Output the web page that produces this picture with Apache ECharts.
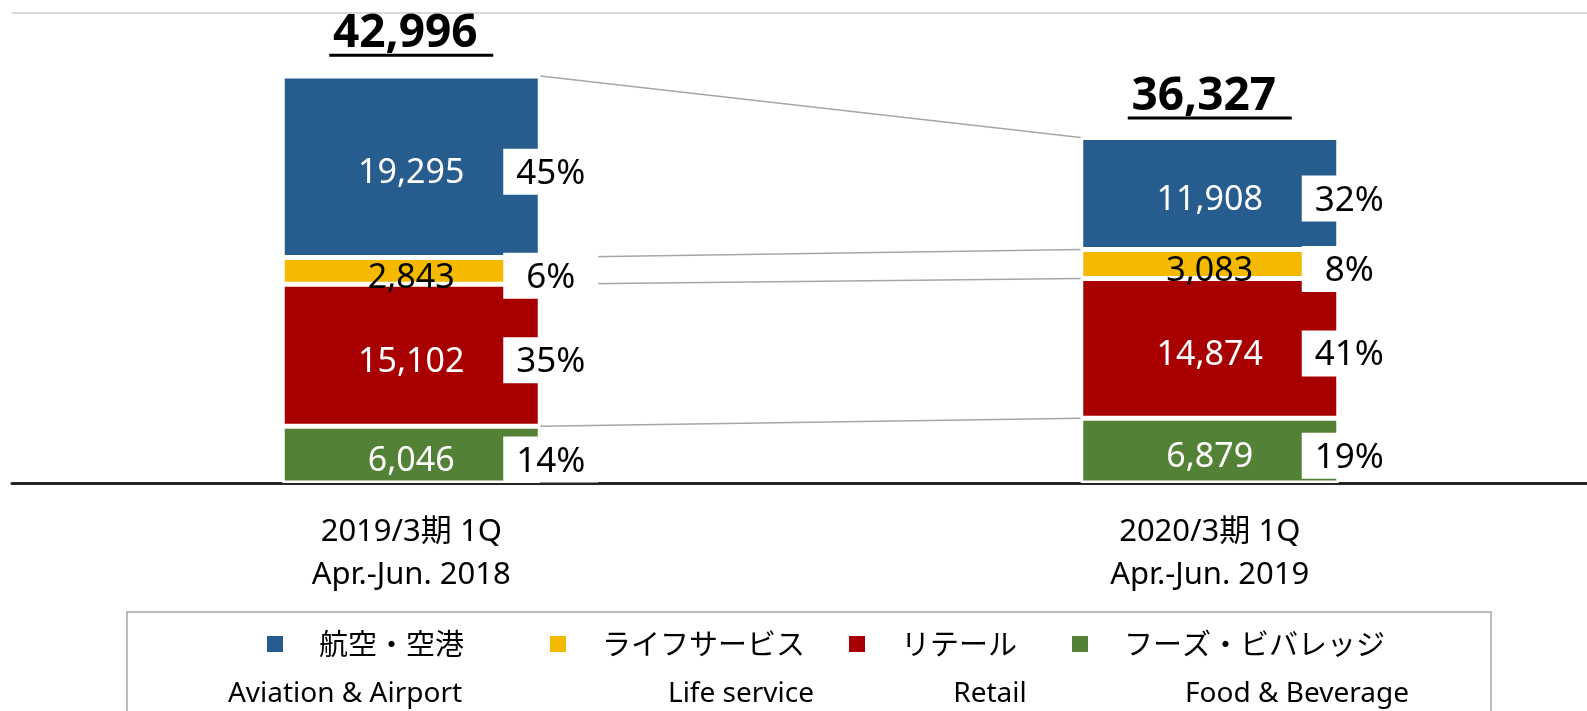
<!DOCTYPE html>
<html>
<head>
<meta charset="utf-8">
<script src="https://cdn.jsdelivr.net/npm/echarts@6/dist/echarts.min.js"></script>
<style>
html, body { margin: 0; padding: 0; background: #fff; }
#container { width: 1587px; height: 711px; }
</style>
</head>
<body>
<div id="container"></div>
<script>
// data
var periods = ['2019/3期 1Q\nApr.-Jun. 2018', '2020/3期 1Q\nApr.-Jun. 2019'];
var segments = ['航空・空港', 'ライフサービス', 'リテール', 'フーズ・ビバレッジ'];
var segmentsEn = ['Aviation & Airport', 'Life service', 'Retail', 'Food & Beverage'];
var aviation = [19295, 11908];
var lifeService = [2843, 3083];
var retail = [15102, 14874];
var foodBeverage = [6046, 6879];
var totals = [42996, 36327];
var pctAviation = [45, 32];
var pctLife = [6, 8];
var pctRetail = [35, 41];
var pctFood = [14, 19];

var FONT = '"Noto Sans", "Noto Sans CJK JP", sans-serif';
var BAR_W = 258;
var colors = ['#265d8e', '#f5ba00', '#a80000', '#538135'];

// stacked from the bottom up
var layers = [
	{ name: segments[3], data: foodBeverage, pct: pctFood, color: colors[3], label: '#fff' },
	{ name: segments[2], data: retail, pct: pctRetail, color: colors[2], label: '#fff' },
	{ name: segments[1], data: lifeService, pct: pctLife, color: colors[1], label: '#000' },
	{ name: segments[0], data: aviation, pct: pctAviation, color: colors[0], label: '#fff' }
];

var base = [0, 0];
var pctData = [];
var linkData = [];
layers.forEach(function (l) {
	for (var i = 0; i < 2; i++) {
		pctData.push([i, base[i] + l.data[i] / 2, l.pct[i]]);
	}
	base = [base[0] + l.data[0], base[1] + l.data[1]];
	linkData.push([0, base[0], base[1]]);
});

var barSeries = layers.map(function (l) {
	return {
		name: l.name,
		type: 'bar',
		stack: 'total',
		barWidth: BAR_W,
		data: l.data,
		itemStyle: { color: l.color, borderColor: '#fff', borderWidth: 2.5 },
		label: {
			show: true,
			position: 'inside',
			offset: [0, 7],
			color: l.label,
			fontSize: 34,
			fontFamily: FONT,
			formatter: function (p) { return echarts.format.addCommas(p.value); }
		}
	};
});

var myChart = echarts.init(document.getElementById('container'));

var legendX = [265, 548, 847, 1070];
var enX = [345, 741, 990, 1297];

option = {
	animation: false,
	// the slide's plot runs past the right edge, so let the grid overflow
	grid: { left: 12, width: 1597, top: 13, bottom: 228, outerBoundsMode: 'none' },
	legend: segments.map(function (s, i) {
		return {
			data: [s],
			left: legendX[i],
			top: 626,
			padding: 0,
			itemWidth: 18,
			itemHeight: 18,
			icon: 'rect',
			selectedMode: false,
			textStyle: { fontSize: 29, fontFamily: '"Noto Sans CJK JP", sans-serif', color: '#000', padding: [0, 0, 0, 30], lineHeight: 36 }
		};
	}),
	xAxis: {
		type: 'category',
		data: periods,
		axisTick: { show: false },
		axisLine: { lineStyle: { color: '#262626', width: 3 } },
		axisLabel: { interval: 0, margin: 28, fontSize: 31, lineHeight: 43, color: '#000', fontFamily: FONT }
	},
	yAxis: {
		type: 'value',
		min: 0,
		max: 50000,
		interval: 50000,
		axisLabel: { show: false },
		axisLine: { show: false },
		splitLine: { lineStyle: { color: '#d9d9d9', width: 2 } }
	},
	graphic: [
		{
			type: 'rect',
			shape: { x: 127, y: 612, width: 1364, height: 140 },
			style: { fill: 'none', stroke: '#a6a6a6', lineWidth: 1.5 }
		}
	].concat(segmentsEn.map(function (t, i) {
		return {
			type: 'text',
			x: enX[i],
			y: 694,
			style: { text: t, fontSize: 28, fontFamily: FONT, fill: '#000', align: 'center', verticalAlign: 'middle' }
		};
	})),
	series: barSeries.concat([
		{
			// connector lines between segment tops
			type: 'custom',
			z: 1,
			silent: true,
			encode: { x: 0, y: [1, 2] },
			data: linkData,
			renderItem: function (params, api) {
				var a = api.coord([0, api.value(1)]);
				var b = api.coord([1, api.value(2)]);
				return {
					type: 'line',
					shape: { x1: a[0] + BAR_W / 2, y1: a[1], x2: b[0] - BAR_W / 2, y2: b[1] },
					style: { stroke: '#a6a6a6', lineWidth: 1.5 }
				};
			}
		},
		{
			// share boxes
			type: 'custom',
			z: 5,
			silent: true,
			encode: { x: 0, y: 1 },
			data: pctData,
			renderItem: function (params, api) {
				var p = api.coord([api.value(0), api.value(1)]);
				var cx = p[0] + BAR_W / 2 - 37 + 47.5;
				var cy = p[1] + 5;
				return {
					type: 'group',
					children: [
						{ type: 'rect', shape: { x: cx - 47.5, y: cy - 23, width: 95, height: 46 }, style: { fill: '#fff' } },
						{ type: 'text', x: cx, y: cy + 2, style: { text: api.value(2) + '%', fontSize: 35, fontFamily: FONT, fill: '#000', align: 'center', verticalAlign: 'middle' } }
					]
				};
			}
		},
		{
			// totals, underlined
			type: 'custom',
			z: 5,
			silent: true,
			encode: { x: 0, y: 1 },
			data: totals.map(function (t, i) { return [i, t]; }),
			renderItem: function (params, api) {
				var p = api.coord([api.value(0), api.value(1)]);
				return {
					type: 'group',
					children: [
						{ type: 'text', x: p[0], y: p[1] - 45, style: { text: echarts.format.addCommas(api.value(1)) + ' ', fontSize: 46, fontWeight: 'bold', fontFamily: FONT, fill: '#000', align: 'center', verticalAlign: 'middle' } },
						{ type: 'rect', shape: { x: p[0] - 82, y: p[1] - 25, width: 164, height: 3 }, style: { fill: '#000' } }
					]
				};
			}
		}
	])
};

myChart.setOption(option);
</script>
</body>
</html>
